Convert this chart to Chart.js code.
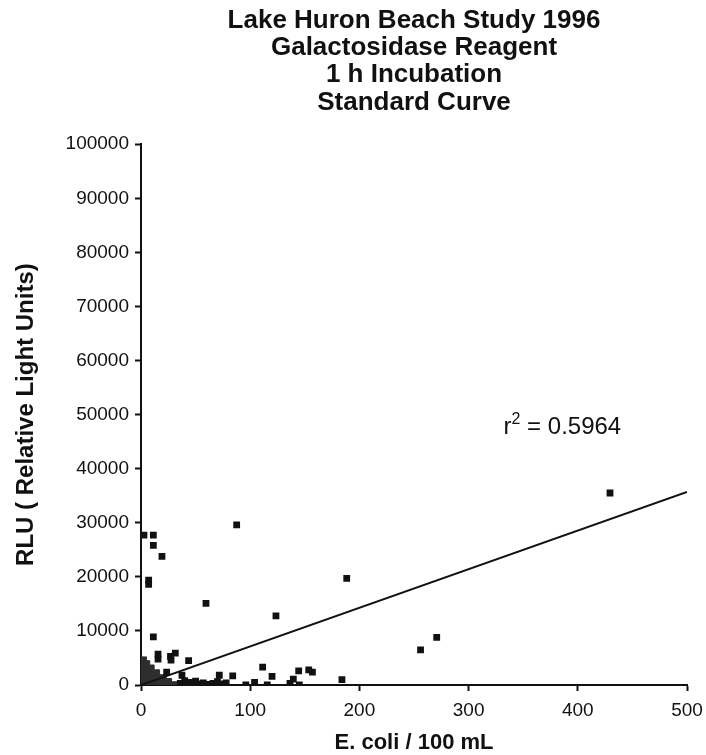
<!DOCTYPE html>
<html>
<head>
<meta charset="utf-8">
<script src="https://cdn.jsdelivr.net/npm/chart.js@4.4.1/dist/chart.umd.min.js"></script>
<style>
  html, body { margin: 0; padding: 0; background: #fff; }
  #wrap { width: 706px; height: 755px; }
</style>
</head>
<body>
<div id="wrap"><canvas id="curveChart" width="706" height="755"></canvas></div>
<script>
// E. coli counts (per 100 mL) and luminometer readings for each sample
var eColi = [2.7, 11.3, 11.3, 19.2, 7, 7, 87.6, 59.5, 123.6, 11.3, 15.6, 15.6, 27, 27.5, 31.4,
  43.6, 23.5, 37.5, 71.7, 84, 111.4, 120, 104, 96, 115.6, 139.5, 144.4, 153.6, 157, 145,
  136.4, 429.5, 188.4, 270.8, 256, 184,
  45, 49, 53, 57, 62, 66, 70, 74, 78, 50, 60, 40, 36];
var rlu = [27700, 27700, 25800, 23800, 19400, 18600, 29600, 15100, 12800, 8900, 5700, 4800, 5300, 4600, 5900,
  4500, 2400, 1800, 1800, 1700, 3300, 1600, 500, 0, 0, 1100, 2600, 2800, 2400, 0,
  300, 35500, 19700, 8800, 6500, 1000,
  500, 300, 200, 400, 100, 300, 600, 200, 400, 700, 0, 800, 300];

// outline of the overlapping low-count samples near the origin
var denseX = [0, 3, 5, 8, 12, 17, 23, 28, 34];
var denseY = [5200, 5200, 4500, 3700, 2800, 1900, 1200, 600, 0];

// linear fit
var fitX = [0, 500];
var fitY = [0, 35700];
var rSquared = '0.5964';

var xTicks = [0, 100, 200, 300, 400, 500];
var yTicks = [0, 10000, 20000, 30000, 40000, 50000, 60000, 70000, 80000, 90000, 100000];

var titleLines = ['Lake Huron Beach Study 1996', 'Galactosidase Reagent', '1 h Incubation', 'Standard Curve'];

var FONT = '"Liberation Sans", Arial, Helvetica, sans-serif';

function pairs(xs, ys) {
  return xs.map(function (x, i) { return { x: x, y: ys[i] }; });
}

// r^2 label written beside the fit line
var rSquaredLabel = {
  id: 'rSquaredLabel',
  afterDatasetsDraw: function (chart) {
    var ctx = chart.ctx;
    var px = chart.scales.x.getPixelForValue(332);
    var py = chart.scales.y.getPixelForValue(46500);
    ctx.save();
    ctx.fillStyle = '#111';
    ctx.textBaseline = 'alphabetic';
    ctx.textAlign = 'left';
    ctx.font = '24px ' + FONT;
    ctx.fillText('r', px, py);
    var w = ctx.measureText('r').width;
    ctx.font = '16px ' + FONT;
    ctx.fillText('2', px + w, py - 10);
    var w2 = ctx.measureText('2').width;
    ctx.font = '24px ' + FONT;
    ctx.fillText(' = ' + rSquared, px + w + w2, py);
    ctx.restore();
  }
};

var ctx = document.getElementById('curveChart').getContext('2d');
var curveChart = new Chart(ctx, {
  type: 'scatter',
  data: {
    datasets: [
      {
        label: 'Dense',
        type: 'line',
        data: pairs(denseX, denseY),
        borderColor: '#2e2e2e',
        borderWidth: 1,
        backgroundColor: '#2e2e2e',
        fill: 'origin',
        stepped: true,
        pointRadius: 0,
        order: 3
      },
      {
        label: 'Fit',
        type: 'line',
        data: pairs(fitX, fitY),
        borderColor: '#111',
        borderWidth: 2,
        fill: false,
        pointRadius: 0,
        order: 2
      },
      {
        label: 'Samples',
        data: pairs(eColi, rlu),
        pointStyle: 'rect',
        pointRadius: 4.8,
        backgroundColor: '#111',
        borderColor: '#111',
        borderWidth: 0,
        order: 1
      }
    ]
  },
  options: {
    responsive: false,
    animation: false,
    layout: { padding: { left: 0, right: 19, top: 0, bottom: 0 } },
    plugins: {
      legend: { display: false },
      tooltip: { enabled: false },
      title: {
        display: true,
        fullSize: false,
        text: titleLines,
        color: '#111',
        font: { family: FONT, size: 26, weight: 'bold', lineHeight: 1.05 },
        padding: { top: 7, bottom: 28 }
      }
    },
    scales: {
      x: {
        type: 'linear',
        min: 0,
        max: 500,
        afterBuildTicks: function (scale) {
          scale.ticks = xTicks.map(function (v) { return { value: v }; });
        },
        afterFit: function (scale) {
          scale.height = 70;
          scale.paddingLeft = 0;
          scale.paddingRight = 0;
        },
        grid: { drawOnChartArea: false, tickLength: 6, tickColor: '#111', tickWidth: 2 },
        border: { color: '#111', width: 2 },
        ticks: { color: '#111', padding: 8, font: { family: FONT, size: 19 }, maxRotation: 0 },
        title: {
          display: true,
          text: 'E. coli / 100 mL',
          color: '#111',
          font: { family: FONT, size: 22, weight: 'bold' },
          padding: { top: 0, bottom: -1 }
        }
      },
      y: {
        type: 'linear',
        min: 0,
        max: 100000,
        afterBuildTicks: function (scale) {
          scale.ticks = yTicks.map(function (v) { return { value: v }; });
        },
        afterFit: function (scale) { scale.width = 141; },
        grid: { drawOnChartArea: false, tickLength: 6, tickColor: '#111', tickWidth: 2 },
        border: { color: '#111', width: 2 },
        ticks: {
          color: '#111',
          padding: 6,
          font: { family: FONT, size: 19 },
          callback: function (v) { return String(v); }
        },
        title: {
          display: true,
          text: 'RLU ( Relative Light Units)',
          color: '#111',
          font: { family: FONT, size: 24, weight: 'bold' },
          padding: { top: 12, bottom: 0 }
        }
      }
    }
  },
  plugins: [rSquaredLabel]
});
</script>
</body>
</html>
